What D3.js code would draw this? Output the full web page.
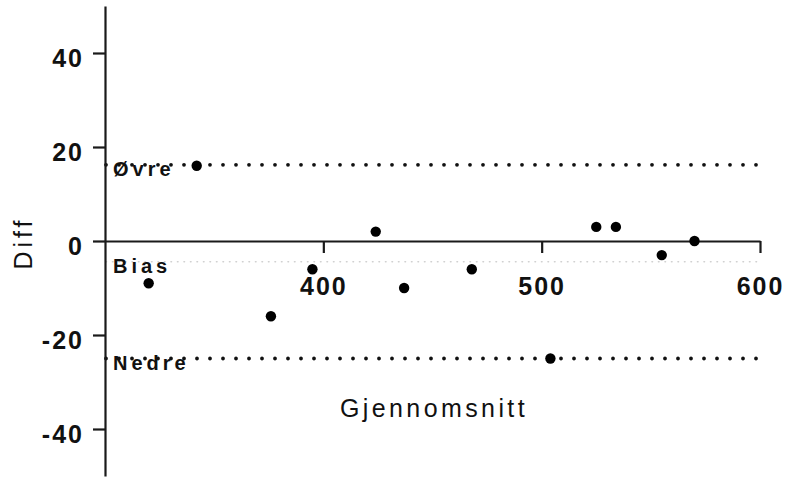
<!DOCTYPE html>
<html>
<head>
<meta charset="utf-8">
<script src="https://cdn.jsdelivr.net/npm/d3@7"></script>
<style>
  html, body { margin: 0; padding: 0; background: #fff; }
  svg { display: block; }
  text { font-family: "Liberation Sans", Arial, sans-serif; fill: #111; }
</style>
</head>
<body>
<svg id="chart" width="786" height="477"></svg>
<script>
// Data
const means = [320, 342, 376, 395, 424, 437, 468, 504, 525, 534, 555, 570];
const diffs = [-9, 16, -16, -6, 2, -10, -6, -25, 3, 3, -3, 0];
const refNames = ["Øvre", "Bias", "Nedre"];
const refValues = [16.2, -4.4, -25.0];
const xTicks = [400, 500, 600];
const yTicks = [-40, -20, 0, 20, 40];
const xTitle = "Gjennomsnitt";
const yTitle = "Diff";

const svg = d3.select("#chart");
const x = d3.scaleLinear().domain([300, 600]).range([105, 760]);
const y = d3.scaleLinear().domain([-50, 50]).range([476, 6]);
const fmt = d => String(d);

// Reference lines
const refStyles = [
  { stroke: "#111", width: 3.8, dash: "0 13" },
  { stroke: "#cfcfcf", width: 1.6, dash: "0.5 6" },
  { stroke: "#111", width: 3.8, dash: "0 13" }
];
refValues.forEach((v, i) => {
  svg.append("line")
    .attr("x1", x(300) + 1).attr("x2", x(600))
    .attr("y1", y(v)).attr("y2", y(v))
    .attr("stroke", refStyles[i].stroke)
    .attr("stroke-width", refStyles[i].width)
    .attr("stroke-dasharray", refStyles[i].dash)
    .attr("stroke-linecap", "round");
  svg.append("text")
    .attr("x", 113).attr("y", y(v) + 11)
    .attr("font-size", 20).attr("font-weight", "bold")
    .attr("letter-spacing", 4)
    .text(refNames[i]);
});

// Y axis
const yAxis = svg.append("g")
  .attr("transform", `translate(${x(300)},0)`)
  .call(d3.axisLeft(y).tickValues(yTicks).tickSize(12).tickSizeOuter(0).tickFormat(fmt));
yAxis.select(".domain").attr("stroke", "#1a1a1a").attr("stroke-width", 2.2);
yAxis.selectAll(".tick line").attr("stroke", "#1a1a1a").attr("stroke-width", 2.2);
yAxis.selectAll(".tick text")
  .attr("x", -21).attr("dy", null).attr("y", 13)
  .attr("font-size", 25).attr("font-weight", "bold")
  .attr("letter-spacing", 2)
  .attr("font-family", "Liberation Sans, Arial, sans-serif")
  .attr("fill", "#111");

// X axis at y = 0
const xAxis = svg.append("g")
  .attr("transform", `translate(0,${y(0)})`)
  .call(d3.axisBottom(x).tickValues(xTicks).tickSize(12).tickSizeOuter(0).tickFormat(fmt));
xAxis.select(".domain").attr("stroke", "#1a1a1a").attr("stroke-width", 2.2);
xAxis.selectAll(".tick line").attr("stroke", "#1a1a1a").attr("stroke-width", 2.2);
xAxis.selectAll(".tick text")
  .attr("y", 54).attr("dy", null).attr("x", 0)
  .attr("font-size", 25).attr("font-weight", "bold")
  .attr("letter-spacing", 2)
  .attr("font-family", "Liberation Sans, Arial, sans-serif")
  .attr("fill", "#111");

// Points
svg.append("g").selectAll("circle")
  .data(means.map((m, i) => ({ m, d: diffs[i] })))
  .join("circle")
  .attr("cx", d => x(d.m))
  .attr("cy", d => y(d.d))
  .attr("r", 5.2)
  .attr("fill", "#000");

// Titles
svg.append("text")
  .attr("x", 434).attr("y", 417)
  .attr("text-anchor", "middle")
  .attr("font-size", 25)
  .attr("letter-spacing", 3.4)
  .text(xTitle);

svg.append("text")
  .attr("transform", `translate(32,${y(0) + 2}) rotate(-90)`)
  .attr("text-anchor", "middle")
  .attr("font-size", 25)
  .attr("letter-spacing", 4)
  .text(yTitle);
</script>
</body>
</html>
